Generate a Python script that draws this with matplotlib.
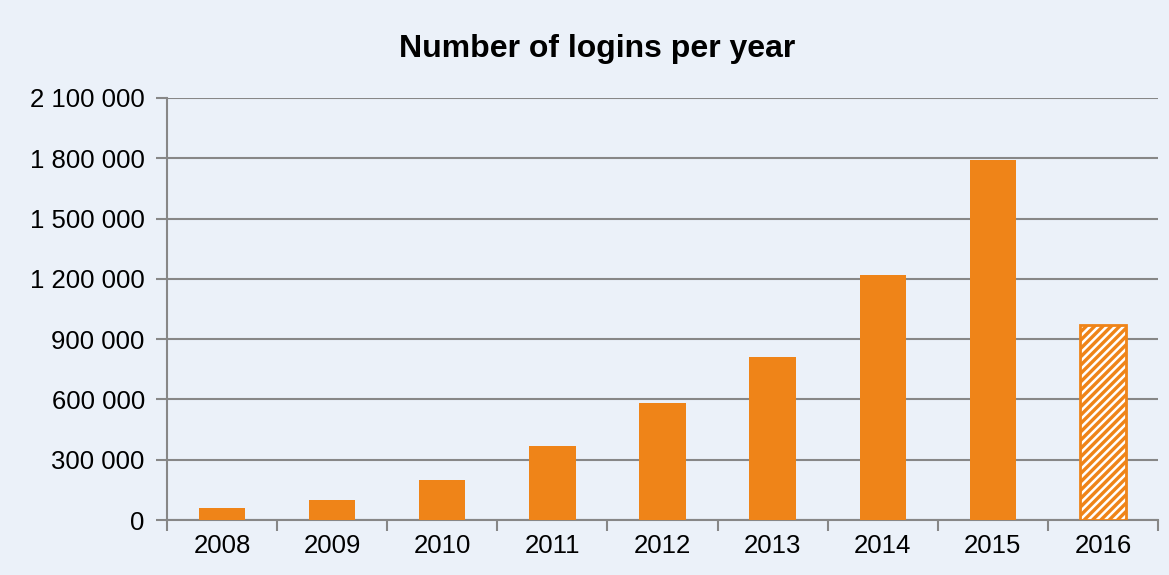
import matplotlib
matplotlib.use('Agg')
import matplotlib.pyplot as plt
import numpy as np

# data
years = ['2008', '2009', '2010', '2011', '2012', '2013', '2014', '2015', '2016']
logins = [60000, 100000, 200000, 370000, 580000, 810000, 1220000, 1790000, 970000]
yticks = [0, 300000, 600000, 900000, 1200000, 1500000, 1800000, 2100000]

bg = '#EBF1F9'
orange = '#EF8418'
grey = '#878787'

plt.rcParams['font.family'] = ['Liberation Sans', 'DejaVu Sans']
plt.rcParams['hatch.linewidth'] = 1.8

fig = plt.figure(figsize=(11.69, 5.75), dpi=100, facecolor=bg)
ax = fig.add_axes([167 / 1169, 1 - 520 / 575, (1158 - 167) / 1169, (520 - 98) / 575])
ax.set_facecolor(bg)

x = np.arange(len(years))
ax.bar(x[:-1], logins[:-1], width=0.42, color=orange, zorder=3)
# last year: striped (partial year)
ax.bar(x[-1:], logins[-1:], width=0.42, facecolor=orange, edgecolor='white',
       hatch='////', linewidth=0, zorder=3)
ax.bar(x[-1:], logins[-1:], width=0.42, facecolor='none', edgecolor=orange,
       linewidth=2, zorder=4)

ax.set_xlim(-0.5, len(years) - 0.5)
ax.set_ylim(0, 2100000)
ax.set_yticks(yticks)
ax.set_yticklabels(['{:,}'.format(v).replace(',', ' ') for v in yticks])
ax.set_xticks(x)
ax.set_xticklabels(years)
ax.set_xticks(np.arange(-0.5, len(years)), minor=True)

ax.grid(True, axis='y', color=grey, linewidth=1.5, zorder=0)
for s in ['top', 'right']:
    ax.spines[s].set_visible(False)
for s in ['left', 'bottom']:
    ax.spines[s].set_color(grey)
    ax.spines[s].set_linewidth(1.5)
ax.tick_params(axis='y', length=8, width=1.5, color=grey, labelsize=18.5, pad=8)
ax.tick_params(axis='x', which='major', length=0, labelsize=18.5, pad=10)
ax.tick_params(axis='x', which='minor', length=8, width=1.5, color=grey)

fig.text(597 / 1169, 1 - 49 / 575, 'Number of logins per year', ha='center', va='center',
         fontsize=23, fontweight='bold')

plt.savefig('out.png', dpi=100, facecolor=bg)
